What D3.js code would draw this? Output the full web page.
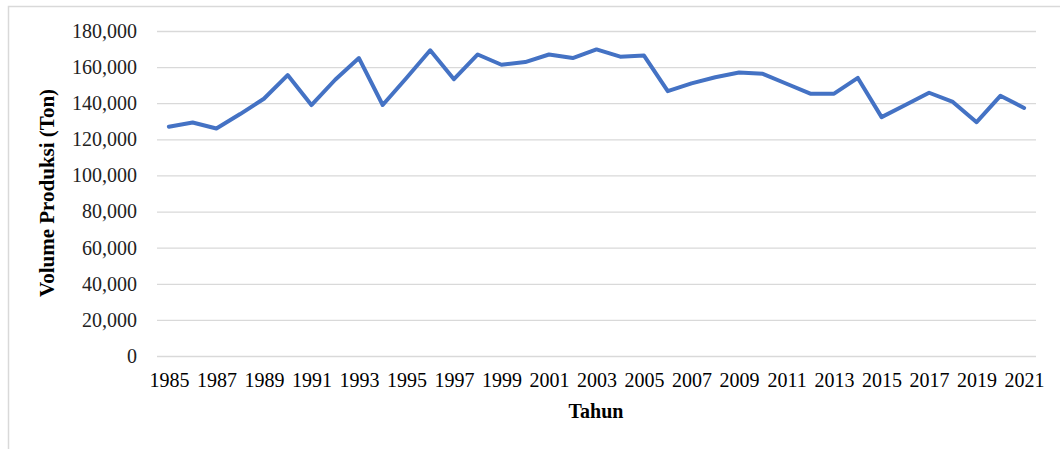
<!DOCTYPE html>
<html>
<head>
<meta charset="utf-8">
<script src="https://cdn.jsdelivr.net/npm/d3@7"></script>
<style>
  html, body { margin: 0; padding: 0; background: #fff; }
  svg { display: block; font-family: "Liberation Serif", "Times New Roman", serif; }
</style>
</head>
<body>
<div id="chart"></div>
<script>
// === Produksi line chart ===

const WIDTH = 1060;
const HEIGHT = 449;
const MARGIN = { top: 31, right: 24, bottom: 93, left: 157 };

const years = [
  1985, 1986, 1987, 1988, 1989, 1990, 1991, 1992, 1993, 1994,
  1995, 1996, 1997, 1998, 1999, 2000, 2001, 2002, 2003, 2004,
  2005, 2006, 2007, 2008, 2009, 2010, 2011, 2012, 2013, 2014,
  2015, 2016, 2017, 2018, 2019, 2020, 2021
];

// volume produksi (ton)
const volume = [
  127000, 129300, 126000, 134000, 142500, 155600, 139000, 153000, 165000, 139000,
  154000, 169300, 153300, 167000, 161300, 162800, 167000, 165000, 169800, 165800,
  166400, 146700, 151000, 154400, 157000, 156300, 150800, 145300, 145300, 154000,
  132300, 139000, 145800, 140700, 129500, 144100, 137400
];

const yTicks = [0, 20000, 40000, 60000, 80000, 100000, 120000, 140000, 160000, 180000];
const xTickLabels = years.filter((y, i) => i % 2 === 0);

const innerW = WIDTH - MARGIN.left - MARGIN.right;
const innerH = HEIGHT - MARGIN.top - MARGIN.bottom;

const svg = d3.select('#chart')
  .append('svg')
  .attr('width', WIDTH)
  .attr('height', HEIGHT);

// outer chart frame (only left + top edges visible in the crop)
svg.append('path')
  .attr('d', `M 8.5 ${HEIGHT} L 8.5 6.5 L ${WIDTH} 6.5`)
  .attr('fill', 'none')
  .attr('stroke', '#d9d9d9')
  .attr('stroke-width', 1.5);

const g = svg.append('g').attr('transform', `translate(${MARGIN.left},${MARGIN.top})`);

const x = d3.scalePoint()
  .domain(years)
  .range([0, innerW])
  .padding(0.5);

const y = d3.scaleLinear()
  .domain([0, 180000])
  .range([innerH, 0]);

// gridlines
const grid = g.append('g')
  .call(d3.axisLeft(y).tickValues(yTicks).tickSize(-innerW).tickFormat(''));
grid.select('.domain').remove();
grid.selectAll('.tick line')
  .attr('stroke', '#d9d9d9')
  .attr('stroke-width', 1.3);

// y axis labels
const yAxis = g.append('g')
  .call(d3.axisLeft(y).tickValues(yTicks).tickSize(0).tickPadding(20).tickFormat(d3.format(',')));
yAxis.select('.domain').remove();
yAxis.selectAll('text')
  .attr('fill', '#222')
  .attr('font-size', '20px')
  .attr('font-family', '"Liberation Serif", serif');

// x axis labels (every other year)
const xAxis = g.append('g')
  .attr('transform', `translate(0,${innerH})`)
  .call(d3.axisBottom(x).tickValues(xTickLabels).tickSize(0));
xAxis.select('.domain').remove();
xAxis.selectAll('text')
  .attr('y', 31)
  .attr('dy', 0)
  .attr('fill', '#000')
  .attr('font-size', '20px')
  .attr('font-family', '"Liberation Serif", serif');

// the line
const line = d3.line()
  .x((d, i) => x(years[i]))
  .y(d => y(d));

g.append('path')
  .datum(volume)
  .attr('d', line)
  .attr('fill', 'none')
  .attr('stroke', '#4472c4')
  .attr('stroke-width', 4)
  .attr('stroke-linejoin', 'round')
  .attr('stroke-linecap', 'round');

// axis titles
svg.append('text')
  .attr('transform', 'translate(54,193) rotate(-90)')
  .attr('text-anchor', 'middle')
  .attr('font-size', '21px')
  .attr('font-weight', 'bold')
  .attr('fill', '#000')
  .text('Volume Produksi (Ton)');

svg.append('text')
  .attr('x', 596)
  .attr('y', 418)
  .attr('text-anchor', 'middle')
  .attr('font-size', '20px')
  .attr('font-weight', 'bold')
  .attr('fill', '#000')
  .text('Tahun');
</script>
</body>
</html>
